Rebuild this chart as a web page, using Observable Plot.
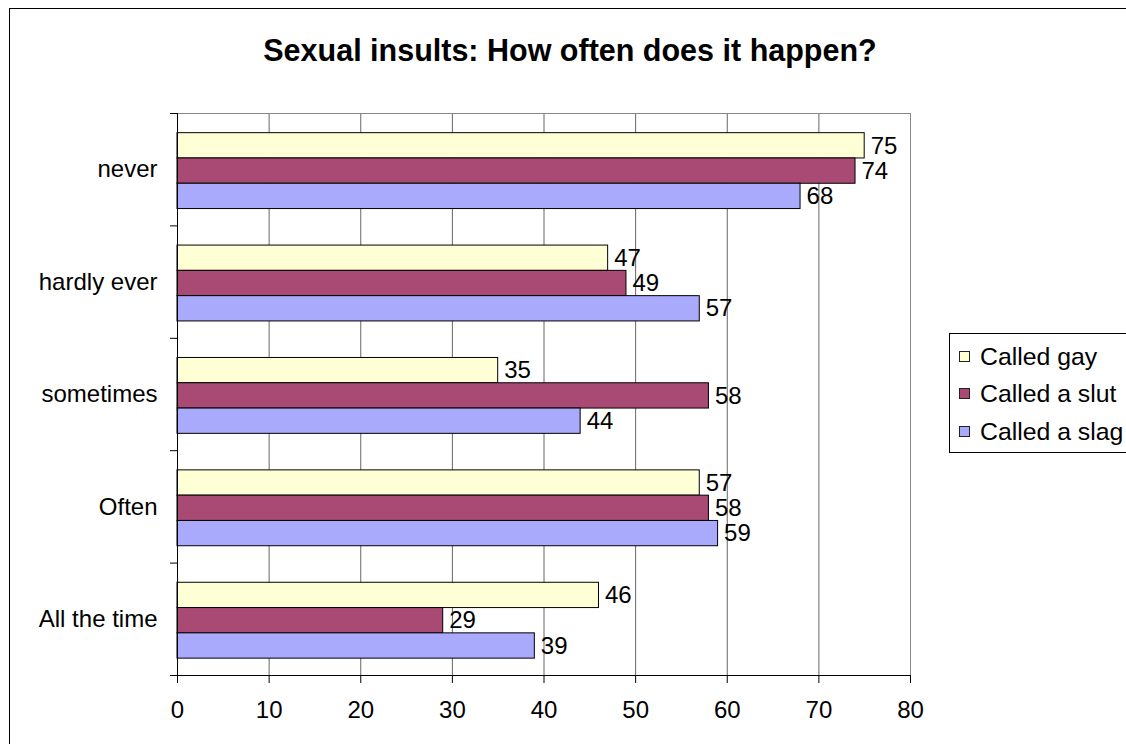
<!DOCTYPE html>
<html>
<head>
<meta charset="utf-8">
<script src="https://cdn.jsdelivr.net/npm/d3@7"></script>
<script src="https://cdn.jsdelivr.net/npm/@observablehq/plot@0.6"></script>
<style>
  html, body { margin: 0; padding: 0; background: #fff; overflow: hidden; }
  #wrap { position: relative; width: 1126px; height: 744px; overflow: hidden; font-family: "Liberation Sans", Arial, sans-serif; }
  #frame { position: absolute; left: 9px; top: 8px; width: 1300px; height: 900px; border: 1px solid #000; box-sizing: border-box; }
  #title { position: absolute; left: 0; top: 35px; width: 1140px; text-align: center; font-weight: bold; font-size: 30.5px; line-height: 31px; color: #000; }
  #chart { position: absolute; left: 0; top: 0; }
  #legend { position: absolute; left: 949px; top: 333px; width: 300px; height: 120px; border: 1px solid #000; box-sizing: border-box; background: #fff; }
  .item { position: absolute; left: 30px; height: 24px; line-height: 24px; font-size: 24.8px; white-space: nowrap; }
  .sw { position: absolute; left: -21px; top: 6px; width: 11px; height: 11px; border: 1px solid #222; box-sizing: border-box; }
</style>
</head>
<body>
<div id="wrap">
  <div id="frame"></div>
  <div id="chart"></div>
  <div id="title">Sexual insults: How often does it happen?</div>
  <div id="legend"></div>
</div>
<script>
const categories = ["never", "hardly ever", "sometimes", "Often", "All the time"];
const series = ["Called gay", "Called a slut", "Called a slag"];
const calledGay = [75, 47, 35, 57, 46];
const calledSlut = [74, 49, 58, 58, 29];
const calledSlag = [68, 57, 44, 59, 39];
const xTicks = [0, 10, 20, 30, 40, 50, 60, 70, 80];
const colors = ["#FFFFD6", "#A94A75", "#AAAAFD"];

const seriesValues = [calledGay, calledSlut, calledSlag];
const rows = [];
categories.forEach((c, i) => {
  series.forEach((s, j) => {
    rows.push({category: c, idx: i, series: s, sIdx: j, value: seriesValues[j][i]});
  });
});

const offset = 0.175, thick = 0.225;
const y1 = d => d.idx + offset + d.sIdx * thick;
const y2 = d => d.idx + offset + (d.sIdx + 1) * thick;
const yc = d => d.idx + offset + (d.sIdx + 0.5) * thick;
const catTicks = categories.map((c, i) => i + 0.5);
const boundTicks = d3.range(categories.length + 1);

const chart = Plot.plot({
  width: 1126,
  height: 744,
  marginLeft: 177,
  marginRight: 216,
  marginTop: 113,
  marginBottom: 69,
  style: {fontFamily: "'Liberation Sans', Arial, sans-serif", fontSize: "24px", color: "#000", background: "transparent", overflow: "visible"},
  x: {type: "linear", domain: [0, 80]},
  y: {type: "linear", domain: [categories.length, 0]},
  color: {type: "ordinal", domain: series, range: colors},
  marks: [
    Plot.ruleX(xTicks.slice(1, -1), {stroke: "#666"}),
    Plot.ruleY([0], {stroke: "#888"}),
    Plot.ruleX([80], {stroke: "#888"}),
    Plot.rect(rows, {x1: 0, x2: "value", y1, y2, fill: "series", stroke: "#000", strokeWidth: 1}),
    Plot.text(rows, {x: "value", y: yc, text: d => String(d.value), textAnchor: "start", dx: 6, fill: "#000", fontSize: 24}),
    Plot.ruleX([0], {stroke: "#000"}),
    Plot.ruleY([categories.length], {stroke: "#000"}),
    Plot.axisX({ticks: xTicks, tickSize: 8, tickPadding: 17, stroke: "#000", fill: "#000", label: null, fontSize: 24}),
    Plot.axisY({ticks: boundTicks, tickSize: 7, tickFormat: () => "", stroke: "#000", label: null}),
    Plot.axisY({ticks: catTicks, tickSize: 0, tickPadding: 20, tickFormat: v => categories[Math.floor(v)], fill: "#000", label: null, fontSize: 24})
  ]
});
document.getElementById("chart").appendChild(chart);

const legend = document.getElementById("legend");
series.forEach((s, j) => {
  const it = document.createElement("div");
  it.className = "item";
  it.style.top = (10.5 + j * 37.5) + "px";
  const sw = document.createElement("div");
  sw.className = "sw";
  sw.style.background = colors[j];
  it.appendChild(sw);
  it.appendChild(document.createTextNode(s));
  legend.appendChild(it);
});
</script>
</body>
</html>
